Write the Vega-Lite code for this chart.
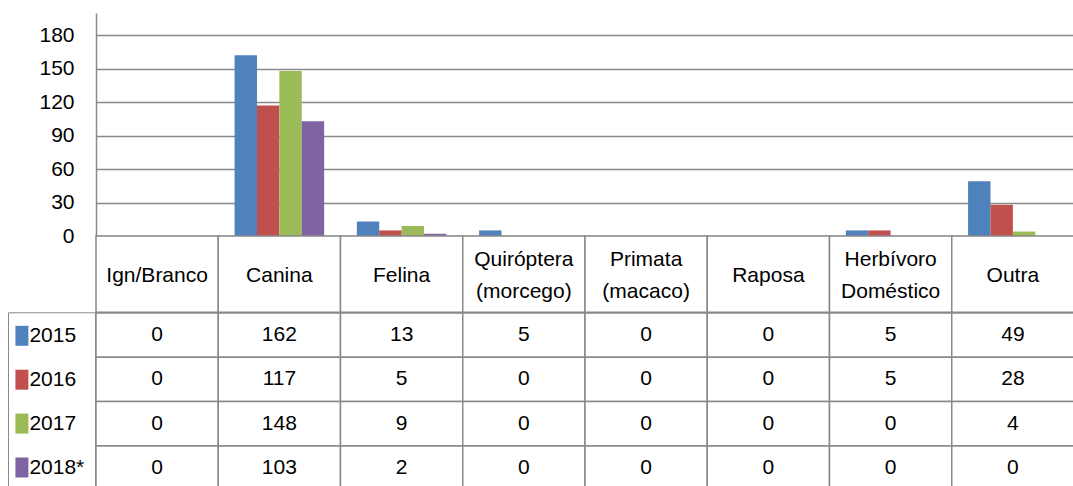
{
  "$schema": "https://vega.github.io/schema/vega-lite/v6.json",
  "autosize": {"type": "pad"},
  "padding": {"left": 7, "top": 13, "right": 0, "bottom": 0},
  "background": "white",
  "config": {
    "font": "Liberation Sans",
    "view": {"stroke": null},
    "concat": {"spacing": 0}
  },
  "datasets": {
    "cats": [
      {"cat": "Ign/Branco", "label": "Ign/Branco"},
      {"cat": "Canina", "label": "Canina"},
      {"cat": "Felina", "label": "Felina"},
      {"cat": "Quiróptera (morcego)", "label": "Quiróptera\n(morcego)"},
      {"cat": "Primata (macaco)", "label": "Primata\n(macaco)"},
      {"cat": "Raposa", "label": "Raposa"},
      {"cat": "Herbívoro Doméstico", "label": "Herbívoro\nDoméstico"},
      {"cat": "Outra", "label": "Outra"}
    ],
    "counts": [
      {"cat": "Ign/Branco", "year": "2015", "value": 0},
      {"cat": "Ign/Branco", "year": "2016", "value": 0},
      {"cat": "Ign/Branco", "year": "2017", "value": 0},
      {"cat": "Ign/Branco", "year": "2018*", "value": 0},
      {"cat": "Canina", "year": "2015", "value": 162},
      {"cat": "Canina", "year": "2016", "value": 117},
      {"cat": "Canina", "year": "2017", "value": 148},
      {"cat": "Canina", "year": "2018*", "value": 103},
      {"cat": "Felina", "year": "2015", "value": 13},
      {"cat": "Felina", "year": "2016", "value": 5},
      {"cat": "Felina", "year": "2017", "value": 9},
      {"cat": "Felina", "year": "2018*", "value": 2},
      {"cat": "Quiróptera (morcego)", "year": "2015", "value": 5},
      {"cat": "Quiróptera (morcego)", "year": "2016", "value": 0},
      {"cat": "Quiróptera (morcego)", "year": "2017", "value": 0},
      {"cat": "Quiróptera (morcego)", "year": "2018*", "value": 0},
      {"cat": "Primata (macaco)", "year": "2015", "value": 0},
      {"cat": "Primata (macaco)", "year": "2016", "value": 0},
      {"cat": "Primata (macaco)", "year": "2017", "value": 0},
      {"cat": "Primata (macaco)", "year": "2018*", "value": 0},
      {"cat": "Raposa", "year": "2015", "value": 0},
      {"cat": "Raposa", "year": "2016", "value": 0},
      {"cat": "Raposa", "year": "2017", "value": 0},
      {"cat": "Raposa", "year": "2018*", "value": 0},
      {"cat": "Herbívoro Doméstico", "year": "2015", "value": 5},
      {"cat": "Herbívoro Doméstico", "year": "2016", "value": 5},
      {"cat": "Herbívoro Doméstico", "year": "2017", "value": 0},
      {"cat": "Herbívoro Doméstico", "year": "2018*", "value": 0},
      {"cat": "Outra", "year": "2015", "value": 49},
      {"cat": "Outra", "year": "2016", "value": 28},
      {"cat": "Outra", "year": "2017", "value": 4},
      {"cat": "Outra", "year": "2018*", "value": 0}
    ]
  },
  "spacing": 0,
  "bounds": "flush",
  "resolve": {"legend": {"color": "independent"}},
  "vconcat": [
    {
      "width": 978,
      "height": 223,
      "data": {"name": "counts"},
      "mark": {"type": "bar"},
      "encoding": {
        "x": {
          "field": "cat", "type": "nominal",
          "scale": {"domain": ["Ign/Branco", "Canina", "Felina", "Quiróptera (morcego)", "Primata (macaco)", "Raposa", "Herbívoro Doméstico", "Outra"], "paddingInner": 0, "paddingOuter": 0},
          "axis": null
        },
        "xOffset": {
          "field": "year", "type": "nominal",
          "scale": {"domain": ["2015", "2016", "2017", "2018*"], "paddingInner": 0, "paddingOuter": 0.73}
        },
        "y": {
          "field": "value", "type": "quantitative",
          "scale": {"domain": [0, 200], "nice": false},
          "axis": {
            "values": [0, 30, 60, 90, 120, 150, 180],
            "title": null,
            "ticks": false,
            "labelPadding": 22,
            "labelFontSize": 21,
            "labelColor": "black",
            "labelFont": "Liberation Sans",
            "domainColor": "#898989",
            "domainWidth": 1.5,
            "gridColor": "#898989",
            "gridWidth": 1.5
          }
        },
        "color": {
          "field": "year", "type": "nominal",
          "scale": {"domain": ["2015", "2016", "2017", "2018*"], "range": ["#4F81BD", "#C0504D", "#9BBB59", "#8064A2"]},
          "legend": {
            "orient": "none",
            "legendX": -88,
            "legendY": 299.3,
            "title": null,
            "symbolType": "M-0.48,-0.74H0.48V0.74H-0.48Z",
            "symbolSize": 729,
            "symbolStrokeWidth": 0,
            "symbolOffset": -9.6,
            "labelFontSize": 21,
            "labelFont": "Liberation Sans",
            "labelColor": "black",
            "labelOffset": -6,
            "padding": 10,
            "rowPadding": 19.9,
            "strokeColor": "#898989"
          }
        }
      }
    },
    {
      "width": 978,
      "height": 76.3,
      "data": {"name": "cats"},
      "layer": [
        {
          "mark": {"type": "rect", "fill": "white", "stroke": "#898989", "strokeWidth": 1.5},
          "encoding": {
            "x": {
              "field": "cat", "type": "nominal",
              "scale": {"domain": ["Ign/Branco", "Canina", "Felina", "Quiróptera (morcego)", "Primata (macaco)", "Raposa", "Herbívoro Doméstico", "Outra"], "paddingInner": 0, "paddingOuter": 0},
              "axis": null
            }
          }
        },
        {
          "transform": [{"filter": "indexof(datum.label, '\\n') < 0"}],
          "mark": {"type": "text", "fontSize": 21, "font": "Liberation Sans", "baseline": "middle", "dy": 2, "color": "black"},
          "encoding": {
            "x": {"field": "cat", "type": "nominal", "axis": null},
            "text": {"field": "label", "type": "nominal"}
          }
        },
        {
          "transform": [{"filter": "indexof(datum.label, '\\n') >= 0"}],
          "mark": {"type": "text", "fontSize": 21, "font": "Liberation Sans", "lineBreak": "\n", "lineHeight": 32, "baseline": "middle", "dy": -14, "color": "black"},
          "encoding": {
            "x": {"field": "cat", "type": "nominal", "axis": null},
            "text": {"field": "label", "type": "nominal"}
          }
        }
      ]
    },
    {
      "width": 978,
      "height": 177.2,
      "data": {"name": "counts"},
      "layer": [
        {
          "mark": {"type": "rect", "fill": "white", "stroke": "#898989", "strokeWidth": 1.5},
          "encoding": {
            "x": {
              "field": "cat", "type": "nominal",
              "scale": {"domain": ["Ign/Branco", "Canina", "Felina", "Quiróptera (morcego)", "Primata (macaco)", "Raposa", "Herbívoro Doméstico", "Outra"], "paddingInner": 0, "paddingOuter": 0},
              "axis": null
            },
            "y": {
              "field": "year", "type": "nominal",
              "scale": {"domain": ["2015", "2016", "2017", "2018*"], "paddingInner": 0, "paddingOuter": 0},
              "axis": {
                "title": null,
                "labels": false,
                "domain": false,
                "ticks": true,
                "tickSize": 88,
                "tickBand": "extent",
                "tickColor": "#898989",
                "tickWidth": 1.5
              }
            }
          }
        },
        {
          "mark": {"type": "text", "fontSize": 21, "font": "Liberation Sans", "baseline": "middle", "color": "black"},
          "encoding": {
            "x": {"field": "cat", "type": "nominal", "axis": null},
            "y": {"field": "year", "type": "nominal", "axis": null},
            "text": {"field": "value", "type": "quantitative"}
          }
        }
      ]
    }
  ]
}
